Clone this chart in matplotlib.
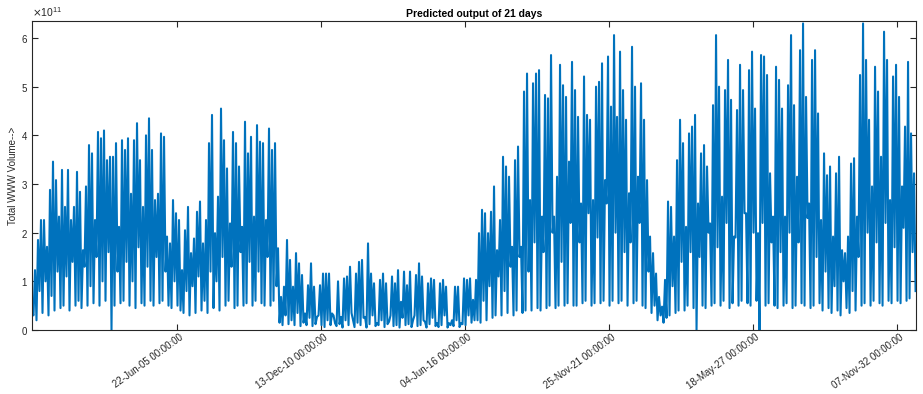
import numpy as np
import matplotlib
matplotlib.use('Agg')
import matplotlib.pyplot as plt
import matplotlib.ticker as ticker
import matplotlib.transforms as mtransforms

plt.rcParams['font.family'] = 'Liberation Sans'

# Peak values (x 1e11), read left to right across the plot
peaks = [
    0.35, 1.23, 1.85, 2.26, 2.26, 1.71, 2.88, 3.46, 3.08, 2.33,
    3.29, 2.53, 3.29, 2.26, 2.53, 3.25, 2.84, 1.64, 2.95, 3.80,
    3.63, 2.26, 4.07, 3.94, 4.10, 3.49, 3.56, 3.56, 3.84, 2.12,
    3.90, 3.70, 3.94, 2.80, 3.90, 4.25, 3.49, 2.53, 4.00, 4.35,
    3.70, 2.67, 2.80, 4.04, 3.97, 1.92, 1.78, 2.67, 2.40, 2.26,
    # segment 2
    1.23, 2.05, 2.53, 1.58, 1.88, 2.43, 2.64, 1.78, 2.26, 3.84,
    4.42, 1.99, 2.74, 4.55, 3.90, 3.32, 2.19, 4.07, 3.84, 3.36,
    2.12, 4.28, 3.63, 3.97, 2.33, 4.21, 3.87, 3.84, 2.26, 4.14,
    3.70, 3.84, 1.68, 0.68, 0.89, 1.85, 1.44, 0.89, 1.58, 1.37,
    1.13, 0.34, 0.92, 1.37, 0.89, 0.27, 0.92, 1.16, 1.16,
    # segment 3
    1.16, 0.34, 0.14, 1.00, 0.27, 1.06, 1.10, 1.30, 0.20, 1.16,
    1.40, 1.44, 0.27, 1.78, 1.16, 0.96, 0.14, 1.03, 1.16, 0.96,
    0.17, 1.10, 0.96, 1.23, 0.58, 1.20, 0.92, 1.20, 0.20, 1.13,
    1.37, 1.10, 0.17, 0.96, 1.06, 1.03, 0.14, 0.96, 1.03, 0.89,
    0.14, 0.20, 0.89, 0.89, 0.14, 1.06, 1.03, 1.06, 0.62,
    # segment 4
    1.03, 1.99, 2.47, 2.40, 1.99, 2.43, 2.95, 1.64, 2.26, 3.56,
    3.36, 3.15, 1.71, 3.49, 3.77, 1.71, 4.90, 5.27, 2.67, 5.07,
    5.27, 5.34, 2.33, 4.83, 4.76, 5.65, 2.33, 3.15, 5.45, 5.03,
    4.79, 3.46, 5.51, 4.93, 4.38, 2.60, 5.21, 4.42, 4.32, 2.67,
    5.00, 5.10, 5.48, 3.08, 5.62, 4.59, 6.06, 4.38, 5.72, 4.93,
    # segment 5
    4.32, 2.81, 5.82, 5.00, 3.15, 5.07, 4.32, 3.08, 1.92, 1.58,
    1.16, 0.68, 0.48, 1.03, 2.64, 2.53, 1.92, 3.49, 4.32, 3.84,
    2.12, 4.04, 4.18, 4.42, 2.60, 3.63, 3.80, 3.36, 2.19, 4.62,
    6.06, 5.00, 2.74, 4.93, 5.55, 4.73, 1.92, 4.52, 5.45, 4.93,
    2.40, 5.34, 5.72, 4.55, 1.99, 5.65, 5.62, 5.24, 3.22,
    # segment 6
    2.33, 5.41, 5.14, 4.55, 2.33, 5.03, 6.06, 4.62, 3.15, 5.75,
    6.30, 4.79, 2.60, 5.55, 5.75, 4.45, 2.26, 3.63, 3.18, 3.36,
    1.92, 3.22, 3.56, 1.64, 1.58, 1.92, 3.42, 3.53, 2.33, 5.24,
    6.30, 5.55, 4.32, 2.95, 5.41, 4.90, 3.56, 6.13, 5.55, 2.67,
    5.21, 5.45, 4.79, 2.95, 4.18, 5.51, 4.04, 3.22,
]

# Trough values (x 1e11) following each peak
troughs = [
    0.30, 0.20, 0.80, 0.35, 1.00, 0.30, 0.70, 0.40, 1.20, 0.45,
    0.50, 1.10, 0.40, 1.40, 0.50, 0.60, 0.45, 1.30, 0.50, 0.90,
    0.55, 1.50, 0.50, 1.00, 0.60, 1.60, 0.00, 0.50, 1.20, 0.55,
    0.60, 1.40, 0.50, 1.00, 0.45, 1.70, 0.55, 0.50, 1.30, 0.60,
    0.50, 1.50, 0.55, 0.60, 1.20, 0.50, 0.45, 1.00, 0.50, 0.40,
    # segment 2
    0.35, 0.80, 0.30, 0.90, 0.35, 1.10, 0.40, 0.60, 0.35, 1.20,
    0.45, 1.00, 0.40, 1.50, 0.50, 0.60, 1.30, 0.45, 0.50, 1.60,
    0.50, 0.55, 1.40, 0.50, 0.60, 1.20, 0.55, 0.50, 1.50, 0.50,
    0.60, 0.90, 0.15, 0.10, 0.30, 0.12, 0.20, 0.10, 0.35, 0.08,
    0.15, 0.10, 0.25, 0.08, 0.12, 0.30, 0.10, 0.06, 0.20,
    # segment 3
    0.10, 0.30, 0.08, 0.12, 0.05, 0.20, 0.10, 0.35, 0.06, 0.15,
    0.10, 0.25, 0.05, 0.12, 0.30, 0.08, 0.10, 0.20, 0.06, 0.12,
    0.30, 0.08, 0.10, 0.05, 0.25, 0.10, 0.12, 0.06, 0.30, 0.08,
    0.10, 0.20, 0.05, 0.12, 0.25, 0.08, 0.06, 0.10, 0.30, 0.05,
    0.10, 0.08, 0.20, 0.06, 0.12, 0.10, 0.30, 0.15, 0.20,
    # segment 4
    0.20, 0.15, 0.60, 0.20, 0.90, 0.25, 0.30, 1.10, 0.30, 0.80,
    0.35, 1.30, 0.30, 0.40, 1.50, 0.35, 0.40, 1.20, 0.40, 1.80,
    0.45, 0.40, 1.60, 0.45, 0.50, 2.00, 0.45, 0.50, 1.40, 0.50,
    0.55, 2.20, 0.50, 0.50, 1.80, 0.55, 0.60, 2.40, 0.50, 0.55,
    1.90, 0.55, 0.60, 2.60, 0.50, 0.60, 2.00, 0.55, 0.60, 1.60,
    # segment 5
    0.50, 1.80, 0.55, 0.60, 2.20, 0.50, 0.45, 1.20, 0.35, 0.50,
    0.20, 0.30, 0.15, 0.25, 0.30, 0.90, 0.35, 0.40, 1.40, 0.40,
    0.50, 1.60, 0.45, 0.00, 1.50, 0.50, 0.45, 2.00, 0.50, 0.55,
    1.70, 0.50, 0.60, 2.20, 0.45, 0.55, 1.90, 0.50, 0.60, 2.40,
    0.55, 0.50, 2.00, 0.60, 0.00, 2.20, 0.50, 0.55, 1.80,
    # segment 6
    0.50, 0.45, 1.60, 0.50, 0.55, 2.00, 0.45, 0.50, 1.80, 0.55,
    0.50, 2.30, 0.45, 0.50, 1.50, 0.55, 0.40, 1.20, 0.45, 0.35,
    0.90, 0.40, 0.30, 1.00, 0.45, 0.35, 0.80, 0.40, 1.50, 0.50,
    0.55, 2.00, 0.50, 0.60, 1.80, 0.55, 0.50, 2.20, 0.60, 0.55,
    1.70, 0.60, 0.55, 2.10, 0.60, 0.65, 1.60, 0.80,
]

tick_labels = ['22-Jun-05 00:00:00', '13-Dec-10 00:00:00', '04-Jun-16 00:00:00',
               '25-Nov-21 00:00:00', '18-May-27 00:00:00', '07-Nov-32 00:00:00']

# interleave peaks and troughs into one series
volume = np.empty(len(peaks) * 2)
volume[0::2] = peaks
volume[1::2] = troughs
volume = volume * 1e11
idx = np.arange(len(volume))

matlab_blue = '#0072BD'
axis_grey = '#262626'

fig = plt.figure(figsize=(9.23, 3.94), dpi=100)
ax = fig.add_axes([32 / 923, 64 / 394, 884 / 923, 309 / 394])
ax.plot(idx, volume, color=matlab_blue, linewidth=1.5)

ax.set_xlim(0, 589.3)
ax.set_ylim(0, 6.35e11)

ax.set_xticks(96.33 + 96 * np.arange(len(tick_labels)))
ax.set_xticklabels(tick_labels, rotation=36, ha='right', rotation_mode='anchor', va='center')
ax.set_yticks(np.arange(0, 7) * 1e11)

fmt = ticker.ScalarFormatter(useMathText=True)
fmt.set_powerlimits((0, 0))
ax.yaxis.set_major_formatter(fmt)
ax.yaxis.get_offset_text().set_fontsize(7.5)
ax.yaxis.get_offset_text().set_color(axis_grey)

ax.tick_params(axis='both', which='major', direction='in', length=4, width=0.8,
               top=True, right=True, labelsize=7, colors=axis_grey, pad=3)
ax.tick_params(axis='x', pad=6)

for spine in ax.spines.values():
    spine.set_edgecolor(axis_grey)
    spine.set_linewidth(0.8)

ax.set_title('Predicted output of 21 days', fontsize=7.5, fontweight='bold', pad=3)
ax.set_ylabel('Total WWW Volume-->', fontsize=7, color=axis_grey, labelpad=2)

# nudge the rotated labels a little to the right, like the original
fig.canvas.draw()
shift = mtransforms.ScaledTranslation(6 / 100, 2 / 100, fig.dpi_scale_trans)
for lab in ax.get_xticklabels():
    lab.set_transform(lab.get_transform() + shift)

plt.savefig('out.png', dpi=100)
